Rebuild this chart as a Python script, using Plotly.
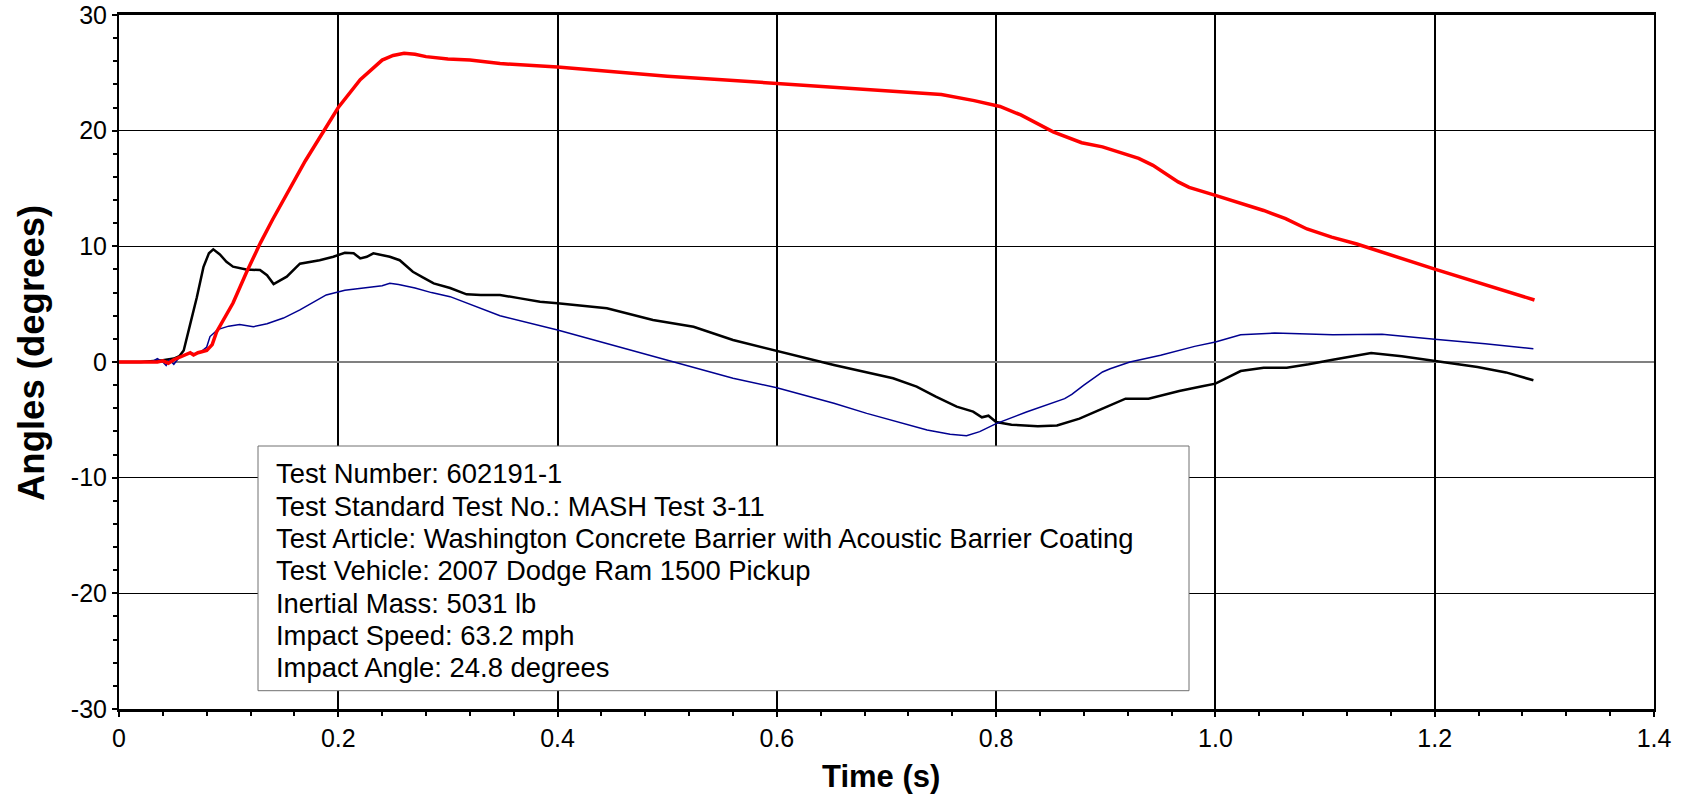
import plotly.graph_objects as go

# ---------------- data ----------------
red_t = [0, 0.02, 0.035, 0.04, 0.045, 0.05, 0.055, 0.06, 0.065, 0.068, 0.072, 0.08, 0.085, 0.089,
         0.095, 0.104, 0.116, 0.129, 0.14, 0.15, 0.17, 0.2, 0.22, 0.24, 0.25, 0.26, 0.27, 0.28,
         0.3, 0.32, 0.3476, 0.4, 0.45, 0.5, 0.55, 0.6, 0.65, 0.7, 0.75, 0.78, 0.8035, 0.8225,
         0.852, 0.878, 0.897, 0.93, 0.943, 0.966, 0.976, 1.0, 1.044, 1.064, 1.0835, 1.106, 1.129,
         1.2, 1.26, 1.291]
red_v = [0, 0, 0, 0.1, -0.1, 0.2, 0.4, 0.6, 0.8, 0.6, 0.8, 1.0, 1.5, 2.6,
         3.6, 5.1, 7.7, 10.3, 12.3, 14.0, 17.4, 22.0, 24.4, 26.1, 26.5, 26.7, 26.6, 26.4,
         26.2, 26.1, 25.8, 25.5, 25.1, 24.7, 24.4, 24.08, 23.7, 23.4, 23.13, 22.6, 22.09, 21.36,
         19.9, 18.96, 18.6, 17.6, 17.0, 15.57, 15.1, 14.41, 13.1, 12.4, 11.5, 10.8, 10.2,
         8.03, 6.29, 5.36]

black_t = [0, 0.02, 0.04, 0.05, 0.055, 0.059, 0.065, 0.071, 0.077, 0.082, 0.086, 0.092, 0.098,
           0.104, 0.116, 0.1286, 0.135, 0.141, 0.153, 0.165, 0.183, 0.1955, 0.206, 0.214, 0.22,
           0.226, 0.232, 0.247, 0.256, 0.268, 0.2775, 0.287, 0.302, 0.317, 0.33, 0.3475, 0.366,
           0.384, 0.4, 0.445, 0.487, 0.524, 0.56, 0.6, 0.652, 0.706, 0.7275, 0.745, 0.764, 0.779,
           0.787, 0.793, 0.8, 0.814, 0.838, 0.8555, 0.876, 0.897, 0.918, 0.939, 0.967, 0.988,
           1.0, 1.023, 1.044, 1.065, 1.085, 1.107, 1.142, 1.17, 1.2, 1.239, 1.265, 1.29]
black_v = [0, 0, 0.15, 0.3, 0.5, 1.0, 3.3, 5.6, 8.2, 9.4, 9.74, 9.3, 8.67,
           8.24, 8.0, 7.95, 7.5, 6.74, 7.38, 8.5, 8.8, 9.1, 9.45, 9.4, 8.96,
           9.1, 9.4, 9.1, 8.8, 7.8, 7.3, 6.8, 6.4, 5.85, 5.8, 5.79, 5.5,
           5.2, 5.07, 4.64, 3.63, 3.05, 1.9, 0.98, -0.26, -1.41, -2.13, -3.0, -3.86, -4.29,
           -4.78, -4.64, -5.19, -5.42, -5.56, -5.48, -4.9, -4.03, -3.17, -3.17, -2.5, -2.1,
           -1.87, -0.78, -0.49, -0.49, -0.2, 0.2, 0.78, 0.5, 0.09, -0.43, -0.9, -1.58]

blue_t = [0, 0.02, 0.03, 0.035, 0.04, 0.043, 0.046, 0.05, 0.055, 0.06, 0.065, 0.07, 0.075,
          0.08, 0.083, 0.09, 0.1, 0.11, 0.1225, 0.135, 0.15, 0.165, 0.18, 0.189, 0.206, 0.226,
          0.24, 0.247, 0.255, 0.27, 0.285, 0.302, 0.325, 0.3475, 0.4, 0.45, 0.4995, 0.56, 0.6,
          0.652, 0.682, 0.737, 0.758, 0.773, 0.785, 0.8, 0.8276, 0.8625, 0.869, 0.88, 0.897,
          0.904, 0.922, 0.95, 0.981, 1.0, 1.023, 1.054, 1.107, 1.152, 1.2, 1.246, 1.29]
blue_v = [0, 0, 0, 0.3, 0, -0.3, 0.2, -0.2, 0.4, 0.6, 0.8, 0.7, 0.9,
          1.3, 2.2, 2.8, 3.1, 3.25, 3.05, 3.3, 3.8, 4.5, 5.3, 5.8, 6.2, 6.45,
          6.6, 6.8, 6.7, 6.4, 6.0, 5.65, 4.8, 4.0, 2.77, 1.47, 0.17, -1.41, -2.22,
          -3.57, -4.44, -5.88, -6.25, -6.37, -6.02, -5.33, -4.32, -3.17, -2.8, -2.0, -0.86,
          -0.58, 0, 0.58, 1.35, 1.73, 2.36, 2.5, 2.36, 2.39, 1.96, 1.58, 1.15]

x_tickvals = [0, 0.2, 0.4, 0.6, 0.8, 1.0, 1.2, 1.4]
x_ticktext = ["0", "0.2", "0.4", "0.6", "0.8", "1.0", "1.2", "1.4"]
y_tickvals = [-30, -20, -10, 0, 10, 20, 30]
y_ticktext = ["-30", "-20", "-10", "0", "10", "20", "30"]

info_lines = [
    "Test Number: 602191-1",
    "Test Standard Test No.: MASH Test 3-11",
    "Test Article: Washington Concrete Barrier with Acoustic Barrier Coating",
    "Test Vehicle: 2007 Dodge Ram 1500 Pickup",
    "Inertial Mass: 5031 lb",
    "Impact Speed: 63.2 mph",
    "Impact Angle: 24.8 degrees",
]
x_title = "Time (s)"
y_title = "Angles (degrees)"

# ---------------- figure ----------------
FONT = "Liberation Sans, Arial, sans-serif"
fig = go.Figure()
fig.add_trace(go.Scatter(x=black_t, y=black_v, mode="lines",
                         line=dict(color="black", width=2.5), showlegend=False))
fig.add_trace(go.Scatter(x=blue_t, y=blue_v, mode="lines",
                         line=dict(color="#000090", width=1.5), showlegend=False))
fig.add_trace(go.Scatter(x=red_t, y=red_v, mode="lines",
                         line=dict(color="#ff0000", width=3.5), showlegend=False))

W, H = 1684, 796
ml, mr, mt, mb = 119, 30, 15, 87
pw, ph = W - ml - mr, H - mt - mb

def px(X):
    return (X - ml) / pw

def py(Y):
    return (H - mb - Y) / ph

fig.update_layout(
    width=W, height=H,
    margin=dict(l=ml, r=mr, t=mt, b=mb, pad=0, autoexpand=False),
    paper_bgcolor="white", plot_bgcolor="white",
    font=dict(family=FONT, color="black", size=25),
)
fig.update_xaxes(
    range=[0, 1.4], tickvals=x_tickvals, ticktext=x_ticktext, automargin=False,
    showgrid=True, gridcolor="black", gridwidth=1.5,
    zeroline=False, showline=True, linecolor="black", linewidth=2.5, mirror=True,
    ticks="outside", ticklen=5, tickwidth=1.5, tickcolor="black",
    minor=dict(dtick=0.04, tick0=0, ticks="outside", ticklen=4, tickwidth=1.5,
               tickcolor="black", showgrid=False),
    tickfont=dict(size=25, family=FONT),
)
fig.update_yaxes(
    range=[-30, 30], tickvals=y_tickvals, ticktext=y_ticktext, automargin=False,
    showgrid=True, gridcolor="black", gridwidth=1.2,
    zeroline=True, zerolinecolor="#808080", zerolinewidth=1.5,
    showline=True, linecolor="black", linewidth=2, mirror=True,
    ticks="outside", ticklen=5, tickwidth=1.5, tickcolor="black",
    minor=dict(dtick=2, tick0=0, ticks="outside", ticklen=4, tickwidth=1.5,
               tickcolor="black", showgrid=False),
    tickfont=dict(size=25, family=FONT),
)

# info box
fig.add_shape(type="rect", xref="paper", yref="paper",
              x0=px(258), x1=px(1189), y0=py(690.7), y1=py(446.0),
              fillcolor="white", line=dict(color="#707070", width=1), layer="above")
first_y, step = 474.0, 32.3
for i, line in enumerate(info_lines):
    fig.add_annotation(xref="paper", yref="paper", x=px(274), y=py(first_y + i * step),
                       xanchor="left", yanchor="middle", text=line, showarrow=False,
                       font=dict(family=FONT, size=27.4, color="black"))

fig.add_annotation(xref="paper", yref="paper", x=px(881), y=py(776), text="<b>" + x_title + "</b>",
                   showarrow=False, xanchor="center", yanchor="middle",
                   font=dict(family=FONT, size=31, color="black"))
fig.add_annotation(xref="paper", yref="paper", x=px(31), y=py(353), text="<b>" + y_title + "</b>",
                   showarrow=False, xanchor="center", yanchor="middle", textangle=-90,
                   font=dict(family=FONT, size=36.5, color="black"))

fig.write_html("out.html", config={"displayModeBar": False},
               post_script="document.body.style.margin='0';document.body.style.overflow='hidden';")
